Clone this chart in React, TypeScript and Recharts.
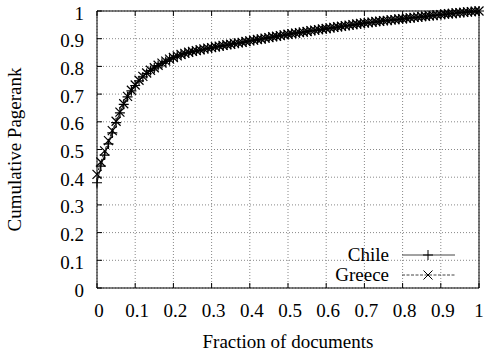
import React from 'react';
import { LineChart, Line, XAxis, YAxis, CartesianGrid, Legend } from 'recharts';

const fractions = [
  0, 0.01, 0.02, 0.03, 0.04, 0.05, 0.06, 0.07, 0.08, 0.09,
  0.1, 0.11, 0.12, 0.13, 0.14, 0.15, 0.16, 0.17, 0.18, 0.19,
  0.2, 0.21, 0.22, 0.23, 0.24, 0.25, 0.26, 0.27, 0.28, 0.29,
  0.3, 0.31, 0.32, 0.33, 0.34, 0.35, 0.36, 0.37, 0.38, 0.39,
  0.4, 0.41, 0.42, 0.43, 0.44, 0.45, 0.46, 0.47, 0.48, 0.49,
  0.5, 0.51, 0.52, 0.53, 0.54, 0.55, 0.56, 0.57, 0.58, 0.59,
  0.6, 0.61, 0.62, 0.63, 0.64, 0.65, 0.66, 0.67, 0.68, 0.69,
  0.7, 0.71, 0.72, 0.73, 0.74, 0.75, 0.76, 0.77, 0.78, 0.79,
  0.8, 0.81, 0.82, 0.83, 0.84, 0.85, 0.86, 0.87, 0.88, 0.89,
  0.9, 0.91, 0.92, 0.93, 0.94, 0.95, 0.96, 0.97, 0.98, 0.99,
  1,
];

const chile = [
  0.38, 0.44, 0.48, 0.52, 0.56, 0.597, 0.632, 0.663, 0.69, 0.712,
  0.731, 0.748, 0.762, 0.774, 0.785, 0.794, 0.803, 0.811, 0.818, 0.826,
  0.832, 0.837, 0.842, 0.846, 0.85, 0.853, 0.856, 0.859, 0.862, 0.865,
  0.867, 0.87, 0.872, 0.875, 0.877, 0.88, 0.882, 0.884, 0.887, 0.889,
  0.892, 0.894, 0.897, 0.899, 0.901, 0.904, 0.906, 0.909, 0.911, 0.913,
  0.916, 0.918, 0.92, 0.922, 0.924, 0.926, 0.928, 0.93, 0.932, 0.934,
  0.936, 0.938, 0.94, 0.942, 0.944, 0.946, 0.948, 0.95, 0.952, 0.954,
  0.956, 0.958, 0.959, 0.961, 0.963, 0.964, 0.966, 0.967, 0.969, 0.97,
  0.972, 0.973, 0.975, 0.976, 0.978, 0.979, 0.981, 0.982, 0.984, 0.985,
  0.987, 0.988, 0.99, 0.991, 0.992, 0.994, 0.995, 0.996, 0.997, 0.999,
  1.0,
];

const greece = [
  0.41, 0.455, 0.495, 0.532, 0.568, 0.602, 0.635, 0.665, 0.692, 0.714,
  0.733, 0.75, 0.764, 0.776, 0.786, 0.795, 0.804, 0.812, 0.819, 0.826,
  0.832, 0.838, 0.843, 0.847, 0.851, 0.854, 0.857, 0.86, 0.863, 0.866,
  0.868, 0.871, 0.873, 0.876, 0.878, 0.88, 0.883, 0.885, 0.887, 0.89,
  0.892, 0.895, 0.897, 0.899, 0.902, 0.904, 0.907, 0.909, 0.911, 0.914,
  0.916, 0.918, 0.92, 0.922, 0.924, 0.926, 0.929, 0.931, 0.933, 0.935,
  0.937, 0.939, 0.941, 0.943, 0.945, 0.947, 0.949, 0.951, 0.953, 0.955,
  0.957, 0.958, 0.96, 0.962, 0.963, 0.965, 0.966, 0.968, 0.969, 0.971,
  0.972, 0.974, 0.975, 0.977, 0.978, 0.98, 0.981, 0.983, 0.984, 0.986,
  0.987, 0.989, 0.99, 0.991, 0.993, 0.994, 0.995, 0.997, 0.998, 0.999,
  1.0,
];

const xTicks = [0, 0.1, 0.2, 0.3, 0.4, 0.5, 0.6, 0.7, 0.8, 0.9, 1];
const yTicks = [0, 0.1, 0.2, 0.3, 0.4, 0.5, 0.6, 0.7, 0.8, 0.9, 1];
const seriesNames = ['Chile', 'Greece'];
const xTitle = 'Fraction of documents';
const yTitle = 'Cumulative Pagerank';

const data = fractions.map((x, i) => ({ x, chile: chile[i], greece: greece[i] }));

const FONT = 'Liberation Serif';
const FS = 19;
const txtStyle = { fontFamily: FONT, fontSize: FS };

const BottomTick = (props: any) => {
  const { x, y, payload } = props;
  const shift = payload.value === 1 ? 0 : 2;
  return (
    <g>
      <line x1={x} y1={y} x2={x} y2={y - 5} stroke="#000" strokeWidth={1} />
      <text x={x + shift} y={y + 29} textAnchor="middle" style={txtStyle} fill="#000">
        {String(payload.value)}
      </text>
    </g>
  );
};

const TopTick = (props: any) => {
  const { x, y } = props;
  return <line x1={x} y1={y} x2={x} y2={y + 5} stroke="#000" strokeWidth={1} />;
};

const LeftTick = (props: any) => {
  const { x, y, payload } = props;
  return (
    <g>
      <line x1={x} y1={y} x2={x + 5} y2={y} stroke="#000" strokeWidth={1} />
      <text x={x - 13} y={y + 8.5} textAnchor="end" style={txtStyle} fill="#000">
        {String(payload.value)}
      </text>
    </g>
  );
};

const RightTick = (props: any) => {
  const { x, y } = props;
  return <line x1={x} y1={y} x2={x - 5} y2={y} stroke="#000" strokeWidth={1} />;
};

const plusPath = (cx: number, cy: number) => `M${cx - 5},${cy}h10M${cx},${cy - 5}v10`;
const crossPath = (cx: number, cy: number) =>
  `M${cx - 4.5},${cy - 4.5}l9,9M${cx - 4.5},${cy + 4.5}l9,-9`;

const PlusDot = (props: any) => {
  const { cx, cy, index } = props;
  if (cx == null || cy == null) return <g key={`p${index}`} />;
  return <path key={`p${index}`} d={plusPath(cx, cy)} stroke="#000" strokeWidth={1.2} fill="none" />;
};

const CrossDot = (props: any) => {
  const { cx, cy, index } = props;
  if (cx == null || cy == null) return <g key={`c${index}`} />;
  return <path key={`c${index}`} d={crossPath(cx, cy)} stroke="#000" strokeWidth={1.2} fill="none" />;
};

const XTitle = (props: any) => {
  const vb = props.viewBox || { x: 97, width: 382, y: 288 };
  return (
    <text x={vb.x + vb.width / 2} y={348} textAnchor="middle" style={txtStyle} fill="#000">
      {xTitle}
    </text>
  );
};

const YTitle = (props: any) => {
  const vb = props.viewBox || { x: 0, y: 11, height: 277 };
  const cx = 21;
  const cy = vb.y + vb.height / 2;
  return (
    <text
      x={cx}
      y={cy}
      transform={`rotate(-90, ${cx}, ${cy})`}
      textAnchor="middle"
      style={txtStyle}
      fill="#000"
    >
      {yTitle}
    </text>
  );
};

const LegendContent = () => (
  <svg width={180} height={46} style={{ display: 'block' }}>
    <text x={99} y={18} textAnchor="end" style={txtStyle} fill="#000">
      {seriesNames[0]}
    </text>
    <line x1={112} y1={12} x2={165} y2={12} stroke="#444" strokeWidth={1} />
    <path d={plusPath(138, 12)} stroke="#000" strokeWidth={1} fill="none" />
    <text x={99} y={38} textAnchor="end" style={txtStyle} fill="#000">
      {seriesNames[1]}
    </text>
    <line x1={112} y1={32} x2={165} y2={32} stroke="#444" strokeWidth={1} strokeDasharray="3 1.5" />
    <path d={crossPath(138, 32)} stroke="#000" strokeWidth={1} fill="none" />
  </svg>
);

export default function App() {
  return (
    <div style={{ position: 'absolute', left: 0, top: 0, width: 484, height: 354, background: '#fff' }}>
      <LineChart width={484} height={354} data={data} margin={{ top: 10, right: 0, bottom: 0, left: 0 }}>
        <CartesianGrid strokeDasharray="1 2" stroke="#888" strokeWidth={1} />
        <XAxis
          dataKey="x"
          type="number"
          domain={[0, 1]}
          ticks={xTicks}
          height={66}
          tickSize={0}
          tickMargin={0}
          tickLine={false}
          axisLine={{ stroke: '#000', strokeWidth: 1 }}
          tick={<BottomTick />}
          interval={0}
          label={<XTitle />}
        />
        <XAxis
          xAxisId="top"
          orientation="top"
          dataKey="x"
          type="number"
          domain={[0, 1]}
          ticks={xTicks}
          height={1}
          tickSize={0}
          tickMargin={0}
          tickLine={false}
          axisLine={{ stroke: '#000', strokeWidth: 1 }}
          tick={<TopTick />}
          interval={0}
        />
        <YAxis
          type="number"
          domain={[0, 1]}
          ticks={yTicks}
          width={97}
          tickSize={0}
          tickMargin={0}
          tickLine={false}
          axisLine={{ stroke: '#000', strokeWidth: 1 }}
          tick={<LeftTick />}
          interval={0}
          label={<YTitle />}
        />
        <YAxis
          yAxisId="right"
          orientation="right"
          type="number"
          domain={[0, 1]}
          ticks={yTicks}
          width={5}
          tickSize={0}
          tickMargin={0}
          tickLine={false}
          axisLine={{ stroke: '#000', strokeWidth: 1 }}
          tick={<RightTick />}
          interval={0}
        />
        <Line
          dataKey="chile"
          name={seriesNames[0]}
          stroke="#222"
          strokeWidth={1}
          dot={PlusDot}
          activeDot={false}
          isAnimationActive={false}
        />
        <Line
          dataKey="greece"
          name={seriesNames[1]}
          stroke="#222"
          strokeWidth={1}
          strokeDasharray="3 1.5"
          dot={CrossDot}
          activeDot={false}
          isAnimationActive={false}
        />
        <Legend
          layout="horizontal"
          verticalAlign="middle"
          align="center"
          content={<LegendContent />}
          wrapperStyle={{ position: 'absolute', left: 290, top: 243, width: 180, height: 46 }}
        />
      </LineChart>
    </div>
  );
}
